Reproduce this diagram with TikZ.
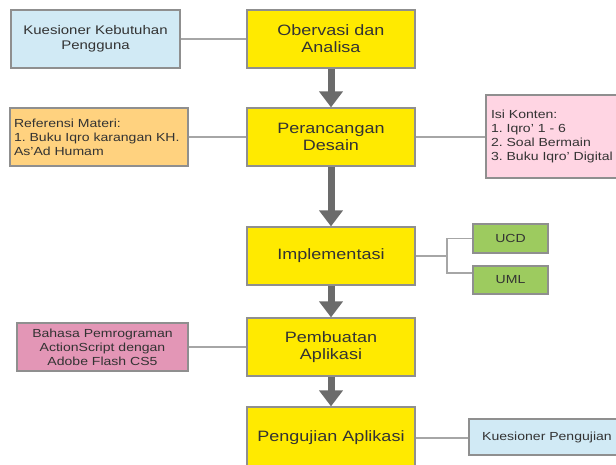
\documentclass[tikz,border=0pt]{standalone}
\usepackage{fontspec}
\setmainfont{Liberation Sans}[FakeStretch=1.2]
\usetikzlibrary{arrows.meta}
\frenchspacing

\definecolor{stageyellow}{HTML}{FFEA00}
\definecolor{noteblue}{HTML}{D1EAF5}
\definecolor{noteorange}{HTML}{FFD27F}
\definecolor{notepink}{HTML}{FFD5E3}
\definecolor{notegreen}{HTML}{9DCB5F}
\definecolor{notemagenta}{HTML}{E396B6}
\definecolor{boxline}{HTML}{8F8F8F}
\definecolor{flowgray}{HTML}{6B6B6B}
\definecolor{linkgray}{HTML}{A6A6A6}
\definecolor{textdark}{HTML}{333333}

\tikzset{
  stage/.style={draw=boxline, line width=1.2pt, fill=stageyellow, text=textdark,
    minimum width=168pt, minimum height=58pt, inner sep=0pt, align=center,
    font=\fontsize{15}{17}\selectfont},
  note/.style={draw=boxline, line width=1.2pt, text=textdark, inner sep=0pt,
    align=center, font=\fontsize{11.7}{14}\selectfont},
  flow/.style={draw=flowgray, line width=7pt, -{Triangle[width=23pt,length=16pt]}},
  link/.style={draw=linkgray, line width=1.4pt}
}

\begin{document}
\begin{tikzpicture}[x=1pt, y=-1pt]
  \useasboundingbox (0,0) rectangle (616,465);
  \clip (0,0) rectangle (616,465);

  % main stages
  \node[stage] (obs) at (331,39) {Obervasi dan\\Analisa};
  \node[stage] (des) at (331,137) {Perancangan\\Desain};
  \node[stage] (imp) at (331,256) {Implementasi};
  \node[stage] (pem) at (331,347) {Pembuatan\\Aplikasi};
  \node[stage, minimum height=62pt] (uji) at (331,438) {Pengujian Aplikasi};

  % side notes
  \node[note, fill=noteblue, minimum width=169pt, minimum height=58pt,
        font=\fontsize{12.5}{15}\selectfont] (kue) at (95.5,39)
        {Kuesioner Kebutuhan\\Pengguna};
  \node[note, fill=noteorange, minimum width=178pt, minimum height=58pt,
        text width=170pt, align=left] (ref) at (99,137)
        {Referensi Materi:\\1. Buku Iqro karangan KH.\\As'Ad Humam};
  \node[note, fill=notepink, minimum width=150pt, minimum height=83pt,
        text width=140pt, align=left] (isi) at (561,136.5)
        {Isi Konten:\\1. Iqro' 1 - 6\\2. Soal Bermain\\3. Buku Iqro' Digital};
  \node[note, fill=notegreen, minimum width=75pt, minimum height=29pt] (ucd) at (510.5,238.5) {UCD};
  \node[note, fill=notegreen, minimum width=75pt, minimum height=28pt] (uml) at (510.5,280) {UML};
  \node[note, fill=notemagenta, minimum width=171pt, minimum height=48pt] (bhs) at (102.5,347)
        {Bahasa Pemrograman\\ActionScript dengan\\Adobe Flash CS5};
  \node[note, fill=noteblue, minimum width=156pt, minimum height=36pt] (kup) at (547,437)
        {Kuesioner Pengujian};

  % flow between stages
  \draw[flow] (obs.south) -- (des.north);
  \draw[flow] (des.south) -- (imp.north);
  \draw[flow] (imp.south) -- (pem.north);
  \draw[flow] (pem.south) -- (uji.north);

  % connectors to side notes
  \draw[link] (kue.east) -- (obs.west);
  \draw[link] (ref.east) -- (des.west);
  \draw[link] (des.east) -- (des.east -| isi.west);
  \draw[link] (bhs.east) -- (pem.west);
  \draw[link] (uji.east) -- (uji.east -| kup.west);
  \coordinate (fork) at (447,256);
  \draw[link] (imp.east) -- (fork);
  \draw[link] (ucd.west) -| (fork) |- ([yshift=7pt]uml.west);
\end{tikzpicture}
\end{document}
